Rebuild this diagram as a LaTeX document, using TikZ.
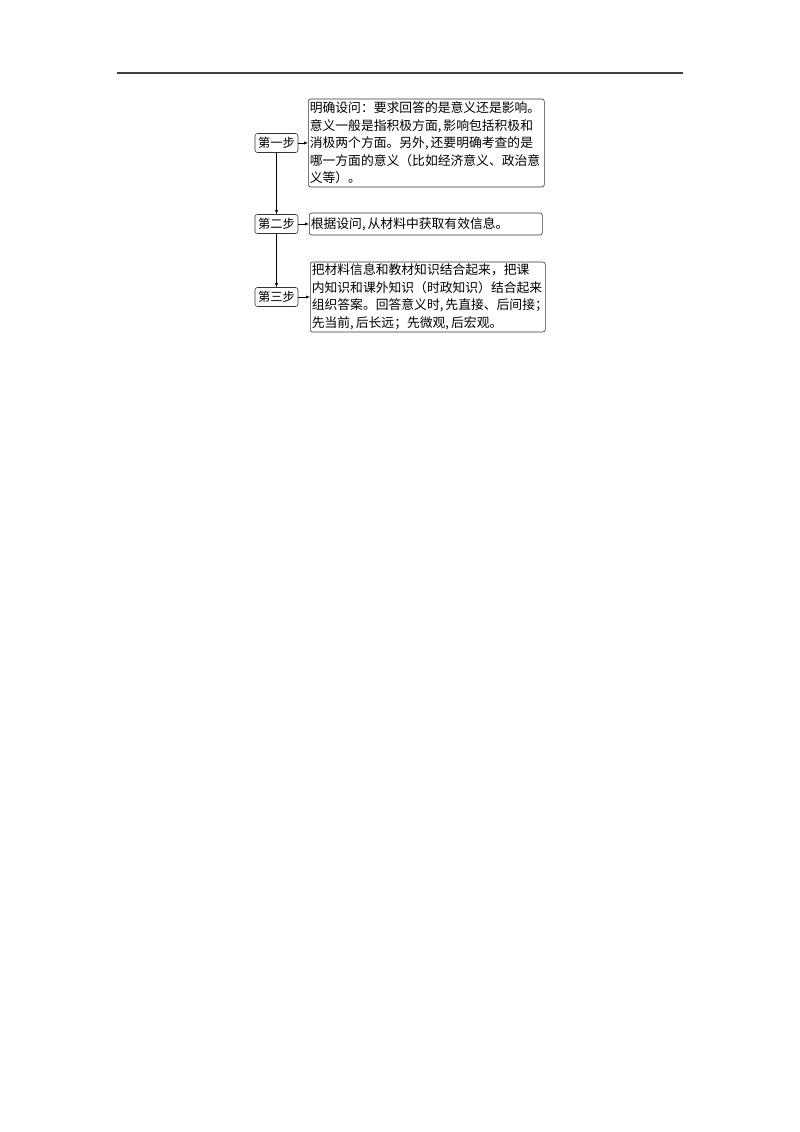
\documentclass[tikz,border=0pt]{standalone}
\usepackage{fontspec}
\setmainfont{Noto Sans CJK SC}
\usetikzlibrary{positioning}

\begin{document}
\begin{tikzpicture}[x=1pt,y=-1pt,>=latex,
  stepbox/.style={draw=black!80,rounded corners=2.5pt,line width=0.6pt,
    minimum width=43pt,minimum height=19pt,inner sep=1pt,
    font=\fontsize{12.3}{14}\selectfont},
  infobox/.style={draw=black!80,rounded corners=2.5pt,line width=0.6pt,
    anchor=west,align=left,inner sep=1.5pt,
    font=\fontsize{12.8}{17.5}\selectfont}]
   \useasboundingbox (0,0) rectangle (800,1132);
   \draw[line width=1.3pt,black!75] (117,73) -- (683,73);

   % steps
   \node[stepbox] (step1) at (276.5,143) {第一步};
   \node[stepbox] (step2) at (276.5,224) {第二步};
   \node[stepbox] (step3) at (276.5,297) {第三步};

   % contents
   \node[infobox,text width=233pt,minimum height=88pt] (info1) at (308,143)
     {明确设问：要求回答的是意义还是影响。\\
      意义一般是指积极方面,\,影响包括积极和\\
      消极两个方面。另外,\,还要明确考查的是\\
      哪一方面的意义（比如经济意义、政治意\\
      义等）。};
   \node[infobox,text width=230pt,minimum height=22pt] (info2) at (309,224)
     {根据设问,\,从材料中获取有效信息。};
   \node[infobox,text width=232pt,minimum height=70pt] (info3) at (310,297)
     {把材料信息和教材知识结合起来，把课\\
      内知识和课外知识（时政知识）结合起来\\
      组织答案。回答意义时,\,先直接、后间接；\\
      先当前,\,后长远；先微观,\,后宏观。};

   \draw[->] (step1) -- (info1);
   \draw[->] (step2) -- (info2);
   \draw[->] (step3) -- (info3);
   \draw[->] (step1) -- (step2);
   \draw[->] (step2) -- (step3);
\end{tikzpicture}
\end{document}
